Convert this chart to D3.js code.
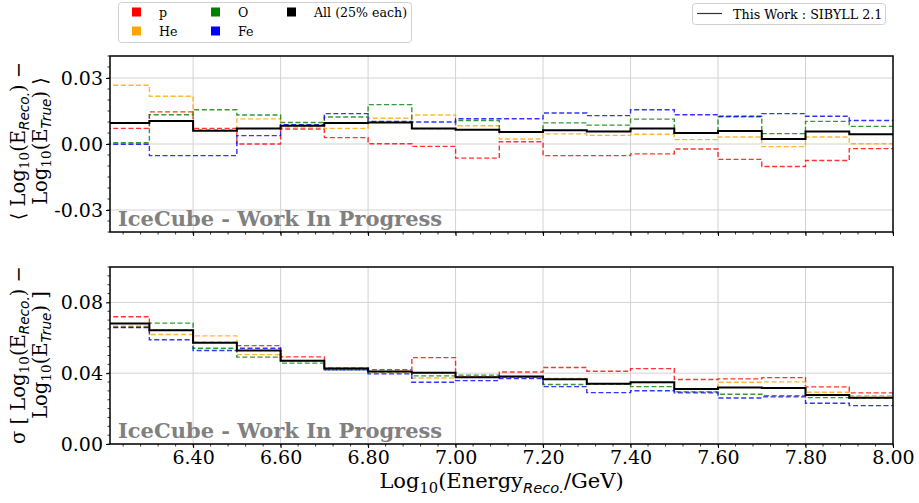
<!DOCTYPE html>
<html>
<head>
<meta charset="utf-8">
<script src="https://cdn.jsdelivr.net/npm/d3@7"></script>
<style>
  body { margin: 0; background: #fff; }
  svg { display: block; font-family: 'DejaVu Serif', serif; }
</style>
</head>
<body>
<svg id="chart" width="919" height="503"></svg>
<script>
// bin edges of Log10(E_reco/GeV), 0.1 wide
var binEdges = [6.2, 6.3, 6.4, 6.5, 6.6, 6.7, 6.8, 6.9, 7.0, 7.1, 7.2, 7.3, 7.4, 7.5, 7.6, 7.7, 7.8, 7.9, 8.0];
var xTicks = [6.4, 6.6, 6.8, 7.0, 7.2, 7.4, 7.6, 7.8, 8.0];

var seriesNames = ['p', 'He', 'O', 'Fe', 'All (25% each)'];
var seriesColors = ['red', 'orange', 'green', 'blue', 'black'];

// mean bias per bin
var biasP   = [0.0071, 0.0146, 0.0071, 0.0000, 0.0068, 0.0029, 0.0001, -0.0011, -0.0064, 0.0010, -0.0053, -0.0053, -0.0045, -0.0023, -0.0070, -0.0102, -0.0075, -0.0021];
var biasHe  = [0.0267, 0.0217, 0.0065, 0.0114, 0.0077, 0.0071, 0.0117, 0.0132, 0.0083, 0.0023, 0.0046, 0.0039, 0.0044, 0.0020, 0.0032, -0.0012, 0.0032, 0.0001];
var biasO   = [0.0006, 0.0133, 0.0156, 0.0132, 0.0098, 0.0123, 0.0179, 0.0070, 0.0107, 0.0053, 0.0096, 0.0086, 0.0113, 0.0050, 0.0124, 0.0047, 0.0103, 0.0080];
var biasFe  = [-0.0001, -0.0053, -0.0053, 0.0038, 0.0088, 0.0138, 0.0103, 0.0100, 0.0115, 0.0115, 0.0141, 0.0129, 0.0156, 0.0133, 0.0126, 0.0138, 0.0126, 0.0107];
var biasAll = [0.0096, 0.0105, 0.0060, 0.0071, 0.0083, 0.0096, 0.0098, 0.0070, 0.0065, 0.0055, 0.0062, 0.0057, 0.0071, 0.0050, 0.0059, 0.0023, 0.0057, 0.0044];

// resolution (sigma) per bin
var sigmaP   = [0.0719, 0.0643, 0.0574, 0.0556, 0.0492, 0.0430, 0.0420, 0.0488, 0.0377, 0.0407, 0.0432, 0.0411, 0.0426, 0.0364, 0.0368, 0.0375, 0.0323, 0.0289];
var sigmaHe  = [0.0665, 0.0619, 0.0611, 0.0505, 0.0471, 0.0428, 0.0407, 0.0373, 0.0377, 0.0377, 0.0370, 0.0340, 0.0347, 0.0296, 0.0349, 0.0351, 0.0292, 0.0273];
var sigmaO   = [0.0660, 0.0683, 0.0541, 0.0491, 0.0457, 0.0419, 0.0409, 0.0385, 0.0389, 0.0379, 0.0336, 0.0338, 0.0324, 0.0294, 0.0281, 0.0273, 0.0262, 0.0260];
var sigmaFe  = [0.0658, 0.0589, 0.0528, 0.0541, 0.0471, 0.0419, 0.0396, 0.0349, 0.0358, 0.0370, 0.0324, 0.0290, 0.0301, 0.0289, 0.0260, 0.0266, 0.0230, 0.0217];
var sigmaAll = [0.0681, 0.0643, 0.0572, 0.0528, 0.0471, 0.0426, 0.0409, 0.0402, 0.0377, 0.0381, 0.0366, 0.0340, 0.0349, 0.0311, 0.0319, 0.0317, 0.0277, 0.0262];

var biasTicks = [-0.03, 0.0, 0.03];
var sigmaTicks = [0.0, 0.04, 0.08];

var svg = d3.select('#chart');
var left = 110, right = 893;
var tickFont = 19;

var x = d3.scaleLinear().domain([6.21, 8.0]).range([left, right]);

function stepPoints(values) {
  var pts = [];
  values.forEach(function(v, i) {
    pts.push([binEdges[i], v]);
    pts.push([binEdges[i + 1], v]);
  });
  return pts;
}

function drawPanel(opts) {
  var y = d3.scaleLinear().domain(opts.domain).range([opts.bottom, opts.top]);
  var g = svg.append('g');
  var clipId = 'clip-' + opts.name;

  g.append('clipPath').attr('id', clipId)
    .append('rect')
      .attr('x', left).attr('y', opts.top)
      .attr('width', right - left).attr('height', opts.bottom - opts.top);

  // grid
  g.append('g').selectAll('line')
    .data(xTicks.filter(function(t) { return t < 8.0; }))
    .enter().append('line')
      .attr('x1', function(d) { return x(d); }).attr('x2', function(d) { return x(d); })
      .attr('y1', opts.top).attr('y2', opts.bottom)
      .attr('stroke', '#d3d3d3').attr('stroke-width', 1);
  g.append('g').selectAll('line')
    .data(opts.ticks)
    .enter().append('line')
      .attr('x1', left).attr('x2', right)
      .attr('y1', function(d) { return y(d); }).attr('y2', function(d) { return y(d); })
      .attr('stroke', '#d3d3d3').attr('stroke-width', 1);

  var line = d3.line()
    .x(function(d) { return x(d[0]); })
    .y(function(d) { return y(d[1]); });

  var lines = g.append('g').attr('clip-path', 'url(#' + clipId + ')');
  opts.series.forEach(function(vals, i) {
    var isAll = i === 4;
    lines.append('path')
      .datum(stepPoints(vals))
      .attr('d', line)
      .attr('fill', 'none')
      .attr('stroke', seriesColors[i])
      .attr('stroke-opacity', isAll ? 1 : 0.8)
      .attr('stroke-width', isAll ? 2 : 1.4)
      .attr('stroke-dasharray', isAll ? null : '5,2.6');
  });

  // watermark
  g.append('text')
    .attr('x', left + 8).attr('y', opts.bottom - 6)
    .attr('font-size', 21).attr('font-weight', 'bold')
    .attr('fill', '#808080')
    .text('IceCube - Work In Progress');

  // axes
  var xAxis = d3.axisBottom(x).tickValues(xTicks).tickSize(4).tickPadding(3)
    .tickFormat(opts.xLabels ? d3.format('.2f') : '');
  var gx = g.append('g').attr('transform', 'translate(0,' + opts.bottom + ')').call(xAxis);
  gx.selectAll('text').attr('font-size', tickFont).attr('font-family', 'DejaVu Serif').attr('fill', '#000');
  if (!opts.xLabels) gx.selectAll('text').remove();
  gx.append('g').selectAll('line')
    .data(d3.range(6.24, 8.0001, 0.04))
    .enter().append('line')
      .attr('x1', function(d) { return x(d); }).attr('x2', function(d) { return x(d); })
      .attr('y1', 0).attr('y2', 2.5)
      .attr('stroke', '#000').attr('stroke-width', 0.8);

  var yAxis = d3.axisLeft(y).tickValues(opts.ticks).tickSize(4).tickPadding(3)
    .tickFormat(function(d) { return d3.format('.2f')(d).replace('\u2212', '-'); });
  var gy = g.append('g').attr('transform', 'translate(' + left + ',0)').call(yAxis);
  gy.selectAll('text').attr('font-size', tickFont).attr('font-family', 'DejaVu Serif').attr('fill', '#000');
  gy.append('g').selectAll('line')
    .data(d3.range(opts.domain[0], opts.domain[1] + 1e-9, opts.minor))
    .enter().append('line')
      .attr('x1', 0).attr('x2', -2.5)
      .attr('y1', function(d) { return y(d); }).attr('y2', function(d) { return y(d); })
      .attr('stroke', '#000').attr('stroke-width', 0.8);
  g.selectAll('.domain').remove();

  g.append('rect')
    .attr('x', left).attr('y', opts.top)
    .attr('width', right - left).attr('height', opts.bottom - opts.top)
    .attr('fill', 'none').attr('stroke', '#000').attr('stroke-width', 1.5);

  // y label, two lines
  var cy = opts.labelY;
  opts.ylabel.forEach(function(parts, k) {
    var t = g.append('text')
      .attr('transform', 'translate(' + (25 + k * 22) + ',' + cy + ') rotate(-90)')
      .attr('text-anchor', 'middle')
      .attr('font-size', 19.5);
    addParts(t, parts, 19.5);
  });
}

// mathtext-like label: plain runs and subscripts
function addParts(t, parts, size) {
  var shift = size * 0.22;
  var down = false;
  parts.forEach(function(p) {
    var s = t.append('tspan').text(p.t);
    if (p.sub) {
      s.attr('font-size', size * 0.7);
      if (!down) s.attr('dy', shift);
      down = true;
      if (p.it) s.attr('font-style', 'italic').attr('font-family', 'DejaVu Sans');
    } else if (down) {
      s.attr('dy', -shift);
      down = false;
    }
  });
}

drawPanel({
  name: 'bias', top: 56, bottom: 232, domain: [-0.04, 0.04], ticks: biasTicks, minor: 0.005,
  series: [biasP, biasHe, biasO, biasFe, biasAll], xLabels: false, labelY: 141,
  ylabel: [
    [{t: '\u27e8 Log'}, {t: '10', sub: true}, {t: '(E'}, {t: 'Reco.', sub: true, it: true}, {t: ') \u2212'}],
    [{t: 'Log'}, {t: '10', sub: true}, {t: '(E'}, {t: 'True', sub: true, it: true}, {t: ') \u27e9'}]
  ]
});

drawPanel({
  name: 'sigma', top: 267, bottom: 444, domain: [0, 0.1], ticks: sigmaTicks, minor: 0.005,
  series: [sigmaP, sigmaHe, sigmaO, sigmaFe, sigmaAll], xLabels: true, labelY: 355,
  ylabel: [
    [{t: '\u03c3 [ Log'}, {t: '10', sub: true}, {t: '(E'}, {t: 'Reco.', sub: true, it: true}, {t: ') \u2212'}],
    [{t: 'Log'}, {t: '10', sub: true}, {t: '(E'}, {t: 'True', sub: true, it: true}, {t: ') ]'}]
  ]
});

// x label
var xl = svg.append('text')
  .attr('x', (left + right) / 2).attr('y', 488)
  .attr('text-anchor', 'middle').attr('font-size', 21);
addParts(xl, [{t: 'Log'}, {t: '10', sub: true}, {t: '(Energy'}, {t: 'Reco.', sub: true, it: true}, {t: '/GeV)'}], 21);

// legend: composition
var leg = svg.append('g');
leg.append('rect')
  .attr('x', 118.5).attr('y', 2.5).attr('width', 293).attr('height', 40).attr('rx', 3)
  .attr('fill', '#fff').attr('stroke', '#d0d0d0');
var legPos = [[132, 12], [132, 31], [211, 12], [211, 31], [287, 12]];
seriesNames.forEach(function(name, i) {
  var p = legPos[i];
  leg.append('rect')
    .attr('x', p[0]).attr('y', p[1] - 4.5).attr('width', 9).attr('height', 9)
    .attr('fill', seriesColors[i]);
  leg.append('text')
    .attr('x', p[0] + 27).attr('y', p[1] + 4.5)
    .attr('font-size', 12.6)
    .text(name);
});

// legend: model
var leg2 = svg.append('g');
leg2.append('rect')
  .attr('x', 692.5).attr('y', 3.5).attr('width', 193).attr('height', 21).attr('rx', 3)
  .attr('fill', '#fff').attr('stroke', '#d0d0d0');
leg2.append('line')
  .attr('x1', 697).attr('x2', 722).attr('y1', 13.5).attr('y2', 13.5)
  .attr('stroke', '#333').attr('stroke-width', 1.2);
leg2.append('text')
  .attr('x', 733).attr('y', 18.5).attr('font-size', 12.7)
  .text('This Work : SIBYLL 2.1');
</script>
</body>
</html>
